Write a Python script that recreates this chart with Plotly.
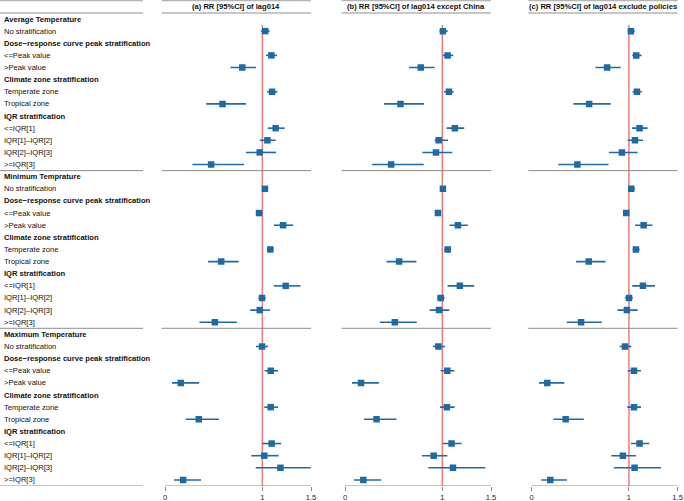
import plotly.graph_objects as go

# row labels
SECTIONS = ["Average Temperature", "Minimum Temprature", "Maximum Temperature"]
SUB_ROWS = [
    ("No stratification", False),
    ("Dose−response curve peak stratification", True),
    ("&lt;=Peak value", False),
    ("&gt;Peak value", False),
    ("Climate zone stratification", True),
    ("Temperate zone", False),
    ("Tropical zone", False),
    ("IQR stratification", True),
    ("&lt;=IQR[1]", False),
    ("IQR[1]–IQR[2]", False),
    ("IQR[2]–IQR[3]", False),
    ("&gt;=IQR[3]", False),
]

PANEL_TITLES = [
    "(a) RR [95%CI] of lag014",
    "(b) RR [95%CI] of lag014 except China",
    "(c) RR [95%CI] of lag014 exclude policies",
]

# estimates per panel: 9 data rows x 3 sections (average, minimum, maximum)
rr_a = [1.03, 1.093, 0.794, 1.10, 0.591, 1.137, 1.052, 0.973, 0.474,
        1.027, 0.966, 1.213, 1.082, 0.577, 1.24, 0.997, 0.973, 0.512,
        0.997, 1.086, 0.162, 1.086, 0.347, 1.096, 1.02, 1.186, 0.186]
lo_a = [0.985, 1.038, 0.673, 1.048, 0.423, 1.055, 0.976, 0.832, 0.282,
        1.0, 0.935, 1.12, 1.048, 0.443, 1.117, 0.959, 0.876, 0.354,
        0.935, 1.024, 0.072, 1.02, 0.213, 1.0, 0.887, 0.932, 0.093]
hi_a = [1.075, 1.151, 0.935, 1.155, 0.832, 1.23, 1.137, 1.141, 0.811,
        1.058, 1.0, 1.316, 1.117, 0.756, 1.392, 1.034, 1.079, 0.739,
        1.058, 1.162, 0.351, 1.162, 0.553, 1.193, 1.168, 1.498, 0.371]

rr_b = [1.006, 1.054, 0.778, 1.068, 0.57, 1.129, 0.962, 0.935, 0.474,
        1.006, 0.955, 1.16, 1.055, 0.556, 1.18, 0.983, 0.966, 0.512,
        0.959, 1.051, 0.164, 1.047, 0.324, 1.095, 0.911, 1.109, 0.188]
lo_b = [0.972, 1.006, 0.658, 1.017, 0.402, 1.044, 0.921, 0.795, 0.279,
        0.98, 0.93, 1.072, 1.02, 0.427, 1.054, 0.945, 0.87, 0.358,
        0.904, 0.983, 0.072, 0.976, 0.194, 1.003, 0.791, 0.856, 0.092]
hi_b = [1.054, 1.112, 0.921, 1.116, 0.812, 1.225, 1.058, 1.102, 0.809,
        1.03, 0.985, 1.262, 1.09, 0.734, 1.328, 1.024, 1.072, 0.737,
        1.027, 1.123, 0.348, 1.126, 0.529, 1.198, 1.051, 1.443, 0.372]

rr_c = [1.02, 1.075, 0.776, 1.082, 0.591, 1.109, 1.062, 0.928, 0.47,
        1.024, 0.972, 1.151, 1.072, 0.587, 1.144, 1.0, 0.979, 0.508,
        0.959, 1.052, 0.161, 1.052, 0.35, 1.109, 0.938, 1.058, 0.192]
lo_c = [0.99, 1.034, 0.656, 1.037, 0.429, 1.031, 0.986, 0.794, 0.274,
        0.99, 0.945, 1.062, 1.04, 0.457, 1.034, 0.959, 0.883, 0.361,
        0.904, 0.986, 0.075, 0.983, 0.223, 1.02, 0.818, 0.845, 0.099]
hi_c = [1.058, 1.13, 0.914, 1.134, 0.814, 1.192, 1.144, 1.089, 0.79,
        1.06, 0.995, 1.243, 1.11, 0.759, 1.268, 1.041, 1.089, 0.722,
        1.024, 1.124, 0.336, 1.124, 0.536, 1.209, 1.072, 1.33, 0.364]

TICKS = [0, 1, 1.5]

W, H = 684, 501
FONT = "Liberation Sans, Arial, Helvetica, sans-serif"
FS = 7.6
BLUE = "#1f6aa5"
RED = "#f07a7a"
GRID = "#8c8c8c"
HEAD_LINE = "#b5b5b5"

# build row list
labels, bold = [], []
for sec in SECTIONS:
    labels.append(sec)
    bold.append(True)
    for txt, b in SUB_ROWS:
        labels.append(txt)
        bold.append(b)
n_rows = len(labels)
data_rows = [i for i, b in enumerate(bold) if not b]

# panel columns in pixels
columns = [(161.7, 311.0), (341.7, 491.0), (528.3, 677.6)]
x_range = [-0.034, 1.5]

fig = go.Figure()
panels = [(rr_a, lo_a, hi_a), (rr_b, lo_b, hi_b), (rr_c, lo_c, hi_c)]
for k, (est, lo, hi) in enumerate(panels):
    xa = "x" if k == 0 else f"x{k + 1}"
    fig.add_trace(go.Scatter(
        x=est, y=data_rows, xaxis=xa, yaxis="y", mode="markers",
        marker=dict(symbol="square", size=6.5, color=BLUE),
        error_x=dict(type="data", symmetric=False,
                     array=[h - e for h, e in zip(hi, est)],
                     arrayminus=[e - l for e, l in zip(est, lo)],
                     color=BLUE, thickness=1.6, width=0),
        showlegend=False, hoverinfo="skip",
    ))

shapes, annotations = [], []

# label column
for i, (txt, b) in enumerate(zip(labels, bold)):
    annotations.append(dict(
        x=0.003, y=i, xref="paper", yref="y", xanchor="left", yanchor="middle",
        text=f"<b>{txt}</b>" if b else txt, showarrow=False,
        font=dict(family=FONT, size=FS, color="#111"),
    ))

sep_rows = [12.5, 25.5]
left_col = (0, 143 / W)
for y in sep_rows + [n_rows - 0.5]:
    shapes.append(dict(type="line", xref="paper", yref="y", x0=left_col[0], x1=left_col[1],
                       y0=y, y1=y, line=dict(color=GRID, width=1)))
for y in [-1.53, -0.5]:
    shapes.append(dict(type="line", xref="paper", yref="y", x0=left_col[0], x1=left_col[1],
                       y0=y, y1=y, line=dict(color=HEAD_LINE, width=1.6)))

layout_axes = {}
for k, (c0, c1) in enumerate(columns):
    name = "xaxis" if k == 0 else f"xaxis{k + 1}"
    ref = "x" if k == 0 else f"x{k + 1}"
    layout_axes[name] = dict(
        domain=[c0 / W, c1 / W], range=x_range, anchor="y",
        tickvals=TICKS, ticktext=[str(t) for t in TICKS],
        ticks="outside", ticklen=4, tickcolor=GRID, tickwidth=1,
        showgrid=False, zeroline=False, showline=False, automargin=False,
        tickfont=dict(family=FONT, size=FS, color="#222"),
    )
    # header lines and title
    for y in [-1.53, -0.5]:
        shapes.append(dict(type="line", xref=f"{ref} domain", yref="y", x0=0, x1=1,
                           y0=y, y1=y, line=dict(color=HEAD_LINE, width=1.6)))
    annotations.append(dict(
        x=0.5, y=-1.0, xref=f"{ref} domain", yref="y", xanchor="center", yanchor="middle",
        text=f"<b>{PANEL_TITLES[k]}</b>", showarrow=False,
        font=dict(family=FONT, size=FS, color="#111"),
    ))
    # section separators
    for y in sep_rows:
        shapes.append(dict(type="line", xref=f"{ref} domain", yref="y", x0=0, x1=1,
                           y0=y, y1=y, line=dict(color=GRID, width=1)))
    # bottom axis line
    shapes.append(dict(type="line", xref=ref, yref="y", x0=TICKS[0], x1=TICKS[-1],
                       y0=n_rows - 0.5, y1=n_rows - 0.5, line=dict(color=GRID, width=1)))
    # reference line at RR = 1
    shapes.append(dict(type="line", xref=ref, yref="y", x0=1, x1=1,
                       y0=0.5, y1=n_rows - 0.5, line=dict(color=RED, width=1.5), layer="below"))

fig.update_layout(
    width=W, height=H,
    margin=dict(l=0, r=0, t=0, b=15, pad=0),
    paper_bgcolor="white", plot_bgcolor="white",
    yaxis=dict(range=[n_rows - 0.5, -1.566], visible=False, showgrid=False,
               zeroline=False, automargin=False),
    shapes=shapes, annotations=annotations,
    **layout_axes,
)

# the page body has a default 8px margin; remove it so the figure sits at the corner
fig.write_html("out.html", config={"displayModeBar": False},
               post_script="document.body.style.margin='0';")
